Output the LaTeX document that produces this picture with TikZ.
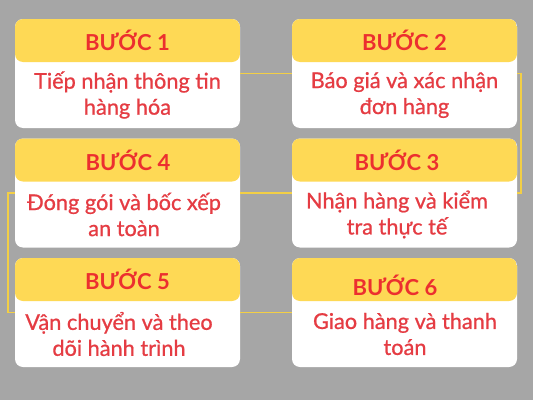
\documentclass[tikz,border=0pt]{standalone}
\usepackage{fontspec}
\setmainfont{Lato}
\newfontfamily\stepfont[FakeBold=0.8]{Lato}
\usepackage{tikz}
\usetikzlibrary{calc}
\definecolor{bggray}{HTML}{A6A6A6}
\definecolor{stepyellow}{HTML}{FED955}
\definecolor{stepred}{HTML}{EC2F2F}
\definecolor{textred}{HTML}{E53C43}
\definecolor{linkyellow}{HTML}{F3CF45}

\begin{document}
\begin{tikzpicture}[x=0.75pt,y=0.75pt,yscale=-1,xscale=1,
  card/.style={fill=white,rounded corners=6pt,minimum width=168.75pt,minimum height=81.75pt,inner sep=0pt,
    path picture={\fill[stepyellow] (path picture bounding box.north west) rectangle ($(path picture bounding box.north east)!0.3945!(path picture bounding box.south east)$);}},
  head/.style={text=stepred,font=\bfseries\fontsize{16.5}{19}\selectfont,inner sep=0.75pt},
  body/.style={text=textred,font=\stepfont\fontsize{16.3}{19.5}\selectfont,align=center,inner sep=0.75pt},
  link/.style={draw=linkyellow,line width=1.2pt}]
\fill[bggray] (0,0) rectangle (533,400);
\node[card] (s1) at (127.5,73.5) {};
\node[card] (s2) at (404.5,73.5) {};
\node[card] (s3) at (404.5,193) {};
\node[card] (s4) at (127.5,193) {};
\node[card] (s5) at (127.5,312.5) {};
\node[card] (s6) at (404.5,312.5) {};
% links between the steps
\draw[link] (s1) -- (s2);
\draw[link] (s2.east) -- ++(4,0) |- (s3.east);
\draw[link] (s3) -- (s4);
\draw[link] (s4.west) -- ++(-6.5,0) |- (s5.west);
\draw[link] (s5) -- (s6);
\node[head] (h1) at (127.5,40.5) {BƯỚC 1};
\node[body] (b1) at (127.5,95) {Tiếp nhận thông tin\\hàng hóa};
\node[head] (h2) at (404.5,40.5) {BƯỚC 2};
\node[body] (b2) at (404.5,95) {Báo giá và xác nhận\\đơn hàng};
\node[head] (h3) at (397,160) {BƯỚC 3};
\node[body] (b3) at (397,214.5) {Nhận hàng và kiểm\\tra thực tế};
\node[head] (h4) at (128,160) {BƯỚC 4};
\node[body] (b4) at (124,214.5) {Đóng gói và bốc xếp\\an toàn};
\node[head] (h5) at (127.5,279.5) {BƯỚC 5};
\node[body] (b5) at (119,334) {Vận chuyển và theo\\dõi hành trình};
\node[head] (h6) at (395,285) {BƯỚC 6};
\node[body] (b6) at (405,334) {Giao hàng và thanh\\toán};
\end{tikzpicture}
\end{document}
